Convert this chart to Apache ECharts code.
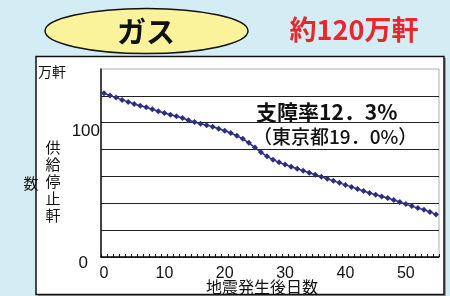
<!DOCTYPE html>
<html>
<head>
    <meta charset="utf-8">
    <title>ガス 供給停止軒数</title>
    <script src="https://cdn.jsdelivr.net/npm/echarts@6/dist/echarts.min.js"></script>
    <style>
        html, body { margin: 0; padding: 0; background: #d4ecf4; }
        #chart1 { width: 450px; height: 296px; }
    </style>
</head>
<body>
<div id="chart1"></div>
<script>
    // 地震発生後日数
    var days = ['0','1','2','3','4','5','6','7','8','9','10','11','12','13','14','15','16','17','18','19',
        '20','21','22','23','24','25','26','27','28','29','30','31','32','33','34','35','36','37','38','39',
        '40','41','42','43','44','45','46','47','48','49','50','51','52','53','54','55'];
    // 供給停止軒数（万軒）
    var stopped = [122.0, 120.2, 118.7, 117.0, 115.5, 114.0, 112.7, 111.5, 110.0, 108.5,
        107.3, 106.0, 104.8, 103.5, 101.8, 100.5, 99.3, 98.2, 97.0, 95.5,
        94.0, 92.3, 90.3, 88.0, 85.0, 81.5, 78.0, 75.0, 72.5, 70.5,
        68.8, 67.2, 65.7, 64.2, 62.7, 61.2, 59.7, 58.2, 56.7, 55.2,
        53.7, 52.2, 50.6, 49.1, 47.6, 46.3, 45.1, 43.9, 42.4, 40.9,
        39.4, 37.9, 36.4, 35.2, 33.6, 31.7];
    var yTickLabels = [0, 100];

    var jp = '"Noto Sans CJK JP", sans-serif';
    var latin = '"Liberation Sans", Arial, sans-serif';

    var myChart1 = echarts.init(document.getElementById('chart1'));
    myChart1.setOption({
        backgroundColor: '#d4ecf4',
        animation: false,
        graphic: [
            // 白い枠
            { type: 'rect', shape: { x: 38, y: 58, width: 408, height: 238 }, style: { fill: '#9a9a9a' }, z: -2 },
            { type: 'rect', shape: { x: 36, y: 56.5, width: 408, height: 238 }, style: { fill: '#fff', stroke: '#111', lineWidth: 1.5 }, z: -1 },
            // タイトル
            { type: 'ellipse', shape: { cx: 146.5, cy: 31, rx: 101.5, ry: 22.5 }, style: { fill: '#fbf39c', stroke: '#111', lineWidth: 1.5 } },
            { type: 'text', x: 146, y: 32, style: { text: 'ガス', fontSize: 29, fontWeight: 'bold', fill: '#111', fontFamily: jp, align: 'center', verticalAlign: 'middle' } },
            { type: 'text', x: 354, y: 30, style: { text: '約120万軒', fontSize: 27, fontWeight: 'bold', fill: '#e8262b', fontFamily: jp, align: 'center', verticalAlign: 'middle' } },
            // 軸の名前
            { type: 'text', x: 52, y: 72, style: { text: '万軒', fontSize: 14, fill: '#111', fontFamily: jp, align: 'center', verticalAlign: 'middle' } },
            { type: 'text', x: 53, y: 181, style: { text: '供\n給\n停\n止\n軒', fontSize: 15, lineHeight: 17, fill: '#111', fontFamily: jp, align: 'center', verticalAlign: 'middle' } },
            { type: 'text', x: 31, y: 183, style: { text: '数', fontSize: 15, fill: '#111', fontFamily: jp, align: 'center', verticalAlign: 'middle' } },
            // 注記
            { type: 'text', x: 256, y: 112, style: { text: '支障率12．3%', fontSize: 21, fontWeight: 'bold', fill: '#111', fontFamily: jp, verticalAlign: 'middle' } },
            { type: 'text', x: 253, y: 137, style: { text: '（東京都19．0%）', fontSize: 19, fontWeight: 500, fill: '#111', fontFamily: jp, verticalAlign: 'middle' } }
        ],
        grid: {
            left: 101, right: 11, top: 69, bottom: 39,
            outerBoundsMode: 'none',
            containLabel: false,
            show: true, borderColor: '#b0b0b0', borderWidth: 1
        },
        xAxis: {
            type: 'category',
            data: days,
            boundaryGap: true,
            name: '地震発生後日数',
            nameLocation: 'middle',
            nameGap: 22,
            nameMoveOverlap: false,
            nameTextStyle: { fontSize: 16, color: '#111', fontFamily: jp, padding: [0, 16, 0, 0] },
            axisLine: { lineStyle: { color: '#111', width: 1.5 } },
            axisTick: { show: true, inside: true, length: 3, interval: 0, lineStyle: { color: '#111', width: 1 } },
            axisLabel: { interval: 9, fontSize: 16, color: '#111', fontFamily: latin, margin: 9 }
        },
        yAxis: {
            type: 'value',
            min: 0, max: 140, interval: 20,
            axisLine: { show: true, lineStyle: { color: '#111', width: 1.5 } },
            axisTick: { show: false },
            splitLine: { showMaxLine: false, lineStyle: { color: '#222', width: 1 } },
            axisLabel: {
                color: '#111', margin: 1, verticalAlign: 'middle',
                formatter: function (v) {
                    if (yTickLabels.indexOf(v) < 0) return '';
                    return v === 0 ? '{z|0}' : '{h|' + v + '}';
                },
                rich: {
                    h: { fontSize: 17, color: '#111', fontFamily: latin, padding: [18, 0, 0, 0] },
                    z: { fontSize: 17, color: '#111', fontFamily: latin, padding: [12, 12, 0, 0] }
                }
            }
        },
        series: [{
            name: '供給停止軒数',
            type: 'line',
            data: stopped,
            symbol: 'diamond',
            symbolSize: 6,
            showSymbol: true,
            showAllSymbol: true,
            itemStyle: { color: '#2b2f84' },
            lineStyle: { color: '#2b2f84', width: 1.5 }
        }]
    });
</script>
</body>
</html>
